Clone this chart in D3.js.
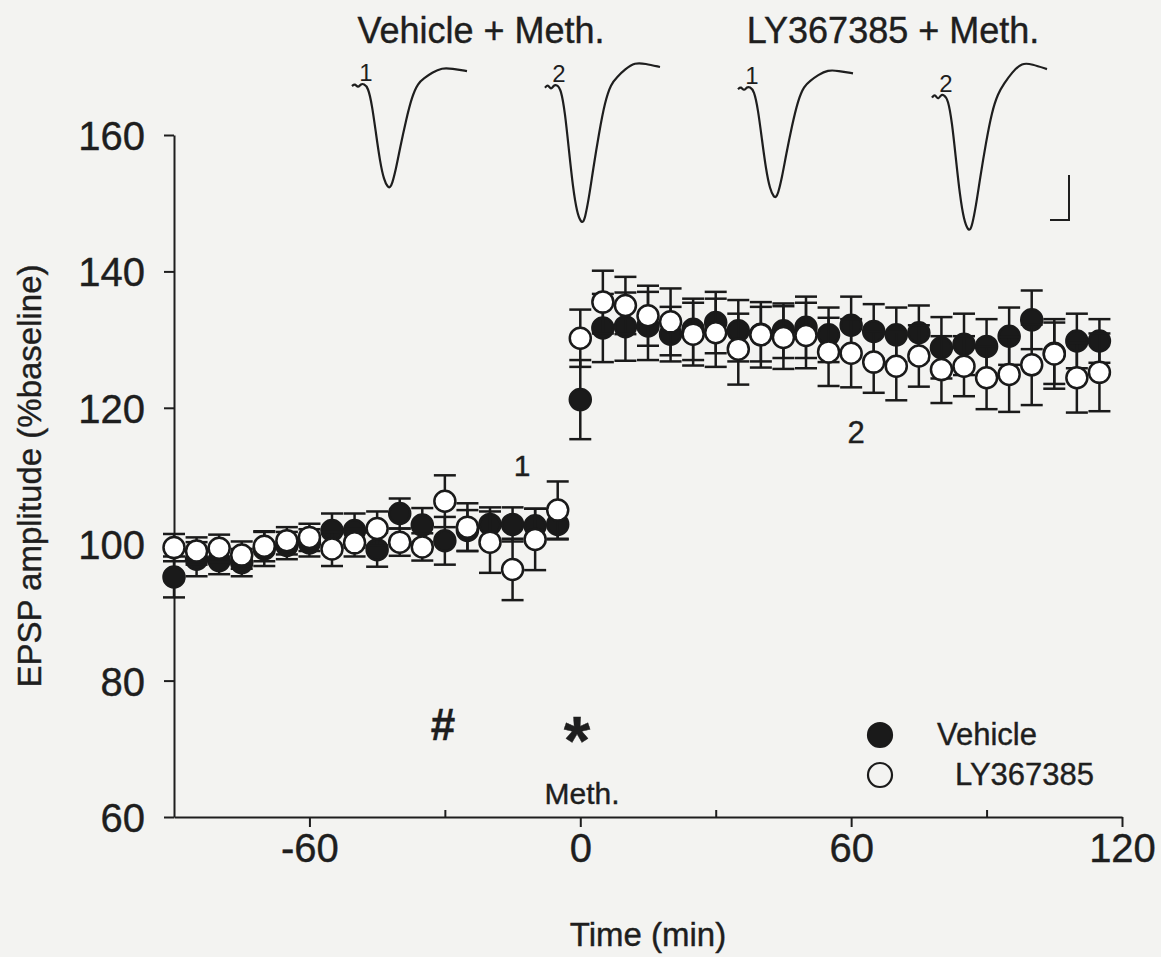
<!DOCTYPE html>
<html>
<head>
<meta charset="utf-8">
<script src="https://cdn.jsdelivr.net/npm/d3@7"></script>
<style>
  body { margin: 0; background: #f3f3f1; }
  svg { display: block; font-family: "Liberation Sans", Arial, sans-serif; }
  svg text { stroke: #1e1e1e; stroke-width: 0.4; }
  .axis path, .axis line { stroke: #1e1e1e; stroke-width: 2; }
  .axis text { fill: #1e1e1e; font-family: "Liberation Sans", Arial, sans-serif; }
</style>
</head>
<body>
<script>
// time points (min)
const times = [-90, -85, -80, -75, -70, -65, -60, -55, -50, -45, -40, -35, -30, -25, -20, -15, -10, -5,
  0, 5, 10, 15, 20, 25, 30, 35, 40, 45, 50, 55, 60, 65, 70, 75, 80, 85, 90, 95, 100, 105, 110, 115];

// Vehicle + Meth. (filled)
const vehicleMean = [95.2, 97.8, 97.6, 97.3, 99.3, 99.8, 100.2, 102.0, 102.0, 99.2, 104.5, 102.8, 100.5, 102.0, 102.9, 102.9, 102.7, 102.9,
  121.2, 131.7, 131.9, 132.0, 130.8, 131.5, 132.5, 131.3, 130.8, 131.3, 131.8, 130.7, 132.1, 131.2, 130.7, 131.0, 128.8, 129.3, 129.0, 130.5, 132.9, 128.0, 129.8, 129.8];
const vehicleSem = [3.0, 2.5, 2.0, 2.0, 2.5, 2.0, 2.0, 2.5, 2.5, 2.5, 2.2, 2.5, 3.5, 3.0, 2.5, 2.5, 2.5, 2.2,
  5.8, 5.0, 5.0, 5.0, 4.0, 4.5, 4.5, 4.5, 4.0, 4.0, 4.5, 4.0, 4.2, 4.0, 4.0, 4.0, 4.5, 4.5, 4.0, 4.2, 4.3, 4.5, 4.0, 3.2];

// LY367385 + Meth. (open)
const lyMean = [99.5, 99.0, 99.4, 98.4, 99.7, 100.5, 101.0, 99.3, 100.2, 102.3, 100.3, 99.6, 106.3, 102.5, 100.3, 96.3, 100.7, 105.0,
  130.2, 135.5, 135.0, 133.5, 132.6, 130.8, 131.0, 128.6, 130.7, 130.3, 130.6, 128.2, 128.0, 126.7, 126.1, 127.6, 125.6, 126.1, 124.4, 124.9, 126.3, 127.9, 124.4, 125.2];
const lySem = [2.0, 2.0, 2.0, 2.0, 2.2, 2.0, 2.0, 2.5, 2.0, 2.5, 2.0, 2.0, 3.8, 3.5, 4.5, 4.5, 4.5, 4.2,
  4.2, 4.6, 4.2, 4.4, 4.9, 4.6, 5.0, 5.2, 4.8, 4.6, 4.8, 5.0, 5.0, 4.5, 5.0, 4.5, 4.9, 4.4, 4.6, 5.5, 5.9, 5.1, 5.1, 5.7];

const xTicks = [-60, 0, 60, 120];
const xMinorTicks = [-30, 30, 90];
const yTicks = [60, 80, 100, 120, 140, 160];

// example EPSP traces (1 = baseline, 2 = after Meth.), in scale-bar units
const traceLabels = ["1", "2", "1", "2"];
const traceDepth = [2.3, 3.05, 2.45, 3.0];
const traceOvershoot = [0.36, 0.5, 0.38, 0.72];
// template waveform: time (a.u.) and normalised potential (trough = -1)
const traceT = [0, 3, 6, 9, 12, 16, 20, 24, 28, 32, 36, 38, 40, 44, 48, 54, 60, 66, 72, 80, 90, 100, 115];
const traceV = [-0.02, 0.04, -0.04, 0.02, 0.0, -0.03, -0.2, -0.48, -0.75, -0.93, -1.0, -1.0, -0.97, -0.82, -0.62, -0.35, -0.12, 0.05, 0.35, 0.7, 1.0, 0.95, 0.8];

const width = 1161, height = 957;
const svg = d3.select("body").append("svg")
  .attr("width", width)
  .attr("height", height);

const x = d3.scaleLinear().domain([-90, 120]).range([174, 1122]);
const y = d3.scaleLinear().domain([60, 160]).range([817, 135]);

// axes
svg.append("g")
  .attr("class", "axis")
  .attr("transform", "translate(0,817)")
  .call(d3.axisBottom(x).tickValues(xTicks).tickSize(10).tickSizeOuter(0).tickPadding(7).tickFormat(d => String(d)))
  .call(g => g.selectAll("text").attr("font-size", 40));

svg.append("g")
  .attr("class", "axis")
  .attr("transform", "translate(0,817)")
  .call(d3.axisTop(x).tickValues(xMinorTicks).tickSize(7).tickSizeOuter(0).tickFormat(""))
  .call(g => g.select(".domain").remove());

svg.append("g")
  .attr("class", "axis")
  .attr("transform", "translate(174,0)")
  .call(d3.axisLeft(y).tickValues(yTicks).tickSize(10).tickSizeOuter(0).tickPadding(19))
  .call(g => g.selectAll("text").attr("font-size", 40).attr("dy", "0.36em"));

// axis titles
svg.append("text")
  .attr("x", 648).attr("y", 946)
  .attr("text-anchor", "middle")
  .attr("font-size", 33)
  .attr("fill", "#1e1e1e")
  .text("Time (min)");

svg.append("text")
  .attr("transform", "translate(41,476) rotate(-90)")
  .attr("text-anchor", "middle")
  .attr("font-size", 33)
  .attr("fill", "#1e1e1e")
  .text("EPSP amplitude (%baseline)");

// series
const capW = 11, r = 10.5;
function drawSeries(mean, sem, filled) {
  const g = svg.append("g");
  const rows = times.map((t, i) => ({ t: t, m: mean[i], s: sem[i] }));
  const bars = g.selectAll("g.err").data(rows).enter().append("g").attr("class", "err")
    .attr("stroke", "#1a1a1a").attr("stroke-width", 2.5);
  bars.append("line")
    .attr("x1", d => x(d.t)).attr("x2", d => x(d.t))
    .attr("y1", d => y(d.m - d.s)).attr("y2", d => y(d.m + d.s));
  bars.append("line")
    .attr("x1", d => x(d.t) - capW).attr("x2", d => x(d.t) + capW)
    .attr("y1", d => y(d.m + d.s)).attr("y2", d => y(d.m + d.s));
  bars.append("line")
    .attr("x1", d => x(d.t) - capW).attr("x2", d => x(d.t) + capW)
    .attr("y1", d => y(d.m - d.s)).attr("y2", d => y(d.m - d.s));
  g.selectAll("circle").data(rows).enter().append("circle")
    .attr("cx", d => x(d.t)).attr("cy", d => y(d.m)).attr("r", r)
    .attr("fill", filled ? "#1a1a1a" : "#ffffff")
    .attr("stroke", "#1a1a1a").attr("stroke-width", 2.5);
}
drawSeries(vehicleMean, vehicleSem, true);
drawSeries(lyMean, lySem, false);

// annotations
const ann = [
  { t: "1", x: 522, y: 476, s: 30 },
  { t: "2", x: 856, y: 443, s: 31 },
  { t: "Meth.", x: 582, y: 804, s: 30 }
];
svg.selectAll("text.ann").data(ann).enter().append("text").attr("class", "ann")
  .attr("x", d => d.x).attr("y", d => d.y)
  .attr("text-anchor", "middle").attr("font-size", d => d.s)
  .attr("fill", "#1e1e1e").text(d => d.t);

svg.append("text").attr("x", 443).attr("y", 740).attr("text-anchor", "middle")
  .attr("font-size", 44).attr("font-weight", "bold").attr("fill", "#1e1e1e").text("#");
svg.append("text").attr("x", 577).attr("y", 764).attr("text-anchor", "middle")
  .attr("font-size", 68).attr("font-weight", "bold").attr("fill", "#1e1e1e").text("*");

// legend
const legend = [
  { name: "Vehicle", filled: true, tx: 937 },
  { name: "LY367385", filled: false, tx: 955 }
];
const lg = svg.selectAll("g.leg").data(legend).enter().append("g").attr("class", "leg")
  .attr("transform", (d, i) => `translate(0,${735 + i * 40})`);
lg.append("circle").attr("cx", 880).attr("cy", 0).attr("r", 12)
  .attr("fill", d => d.filled ? "#1a1a1a" : "none")
  .attr("stroke", "#1a1a1a").attr("stroke-width", 2.2);
lg.append("text").attr("x", d => d.tx).attr("y", 10)
  .attr("font-size", 31).attr("fill", "#1e1e1e").text(d => d.name);

// titles above traces
svg.append("text").attr("x", 481).attr("y", 43).attr("text-anchor", "middle")
  .attr("font-size", 36).attr("fill", "#1e1e1e").text("Vehicle + Meth.");
svg.append("text").attr("x", 893).attr("y", 43).attr("text-anchor", "middle")
  .attr("font-size", 36).attr("fill", "#1e1e1e").text("LY367385 + Meth.");

// EPSP traces
const traceX0 = [352, 545, 738, 932];
const traceY0 = [84, 85, 87, 95];
const unitPx = 45; // vertical scale bar height in px
const tx = d3.scaleLinear().domain([0, 115]).range([0, 115]);
traceLabels.forEach((lab, k) => {
  const pts = traceT.map((t, i) => [t, traceV[i] < 0 ? traceV[i] * traceDepth[k] : traceV[i] * traceOvershoot[k]]);
  const ty = d3.scaleLinear().domain([0, -1]).range([traceY0[k], traceY0[k] + unitPx]);
  const line = d3.line().x(d => traceX0[k] + tx(d[0])).y(d => ty(d[1])).curve(d3.curveBasis);
  svg.append("path").datum(pts).attr("d", line)
    .attr("fill", "none").attr("stroke", "#1e1e1e").attr("stroke-width", 2.2);
  svg.append("text").attr("x", traceX0[k] + 14).attr("y", traceY0[k] - 3)
    .attr("text-anchor", "middle").attr("font-size", 24).attr("fill", "#1e1e1e")
    .style("stroke-width", 0).text(lab);
});

// scale bar
svg.append("path")
  .attr("d", d3.line()([[1069, 175], [1069, 220], [1050, 220]]))
  .attr("fill", "none").attr("stroke", "#1e1e1e").attr("stroke-width", 2);
</script>
</body>
</html>
